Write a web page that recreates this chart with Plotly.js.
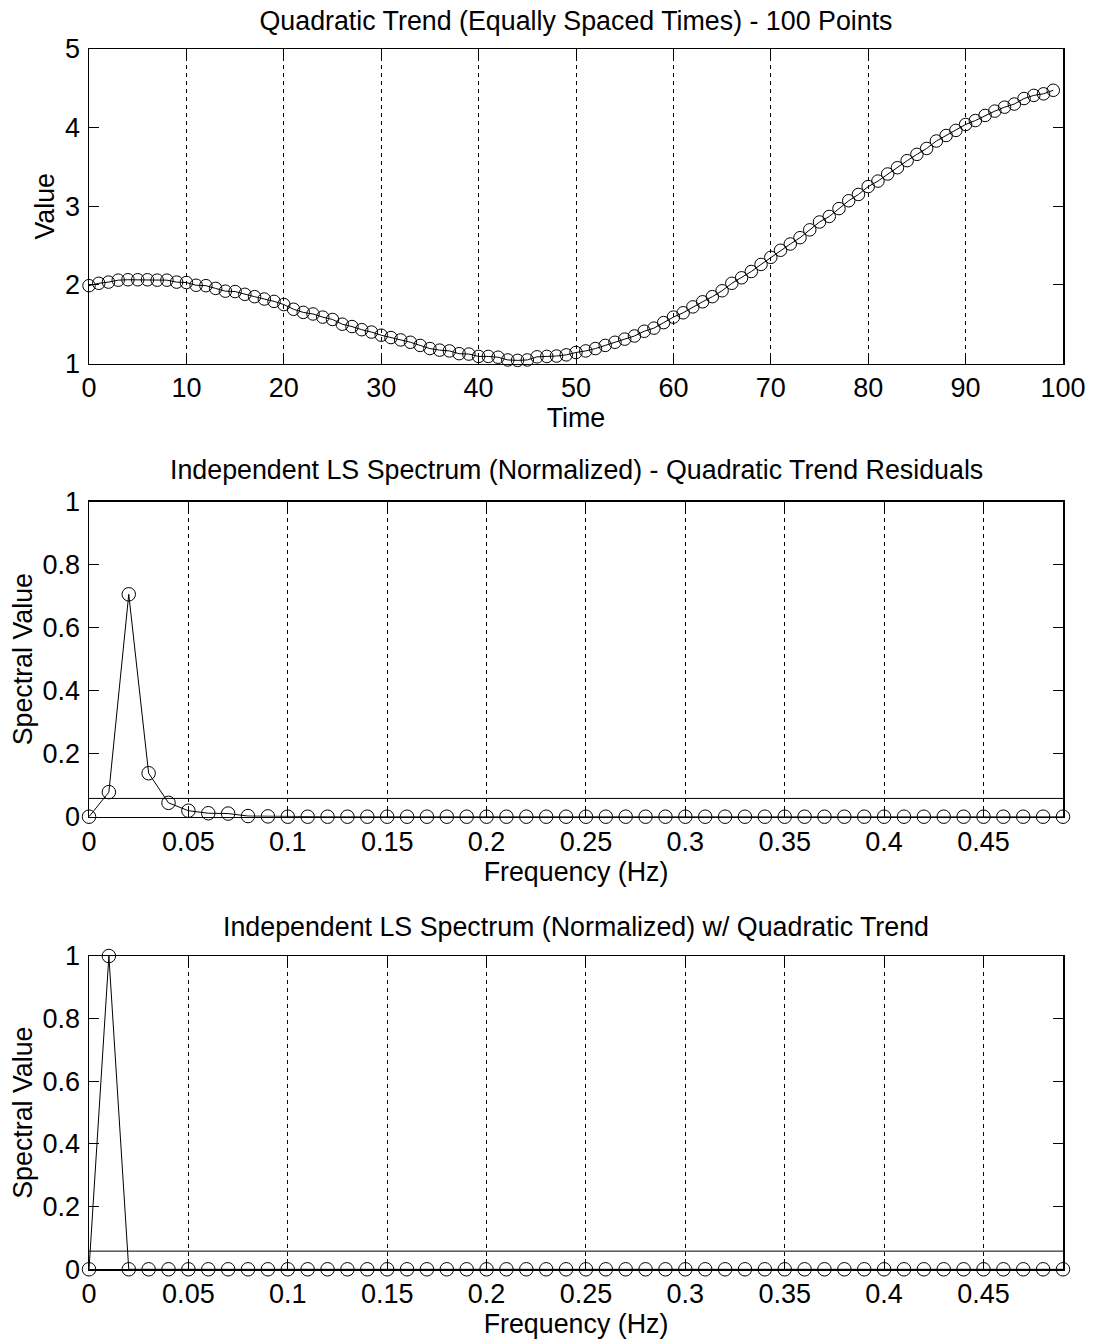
<!DOCTYPE html>
<html>
<head>
<meta charset="utf-8">
<script src="https://cdn.plot.ly/plotly-3.0.1.min.js"></script>
<style>html,body{margin:0;padding:0;background:#fff;}#chart{width:1094px;height:1342px;}</style>
</head>
<body>
<div id="chart"></div>
<script>
// ---- data ----
const times = [0,1,2,3,4,5,6,7,8,9,10,11,12,13,14,15,16,17,18,19,20,21,22,23,24,25,26,27,28,29,30,31,32,33,34,35,36,37,38,39,40,41,42,43,44,45,46,47,48,49,50,51,52,53,54,55,56,57,58,59,60,61,62,63,64,65,66,67,68,69,70,71,72,73,74,75,76,77,78,79,80,81,82,83,84,85,86,87,88,89,90,91,92,93,94,95,96,97,98,99];
const values = [1.99,2.02,2.035,2.06,2.065,2.065,2.065,2.06,2.06,2.035,2.03,1.995,1.99,1.955,1.92,1.915,1.88,1.85,1.82,1.79,
  1.75,1.69,1.65,1.63,1.59,1.56,1.50,1.47,1.43,1.40,1.36,1.33,1.30,1.27,1.23,1.19,1.17,1.16,1.125,1.12,
  1.09,1.09,1.08,1.045,1.04,1.045,1.085,1.09,1.095,1.11,1.14,1.16,1.19,1.23,1.27,1.31,1.35,1.41,1.45,1.52,
  1.59,1.645,1.72,1.785,1.85,1.925,2.02,2.09,2.17,2.26,2.35,2.44,2.52,2.60,2.70,2.80,2.87,2.97,3.07,3.15,
  3.25,3.32,3.41,3.49,3.58,3.66,3.735,3.83,3.90,3.965,4.04,4.09,4.155,4.21,4.26,4.30,4.37,4.41,4.43,4.475];
const freqs = [0,0.01,0.02,0.03,0.04,0.05,0.06,0.07,0.08,0.09,0.10,0.11,0.12,0.13,0.14,0.15,0.16,0.17,0.18,0.19,
  0.20,0.21,0.22,0.23,0.24,0.25,0.26,0.27,0.28,0.29,0.30,0.31,0.32,0.33,0.34,0.35,0.36,0.37,0.38,0.39,
  0.40,0.41,0.42,0.43,0.44,0.45,0.46,0.47,0.48,0.49];
const residualSpectrum = [0,0.078,0.706,0.138,0.044,0.019,0.011,0.010,0.002,0.001,0,0,0,0,0,0,0,0,0,0,
  0,0,0,0,0,0,0,0,0,0,0,0,0,0,0,0,0,0,0,0,0,0,0,0,0,0,0,0,0,0];
const trendSpectrum = [0,1.0,0,0,0,0,0,0,0,0,0,0,0,0,0,0,0,0,0,0,
  0,0,0,0,0,0,0,0,0,0,0,0,0,0,0,0,0,0,0,0,0,0,0,0,0,0,0,0,0,0];
const threshold = 0.058;
const titles = ["Quadratic Trend (Equally Spaced Times) - 100 Points",
  "Independent LS Spectrum (Normalized) - Quadratic Trend Residuals",
  "Independent LS Spectrum (Normalized) w/ Quadratic Trend"];

// ---- layout helpers ----
const W = 1094, H = 1342;
const FONT = {family: '"Liberation Sans", Arial, Helvetica, sans-serif', size: 26.8, color: '#000'};
const TICKFONT = {family: '"Liberation Sans", Arial, Helvetica, sans-serif', size: 27, color: '#000'};
const xd = [89/W, 1063/W];
function yd(top, bottom) { return [1 - bottom/H, 1 - top/H]; }
const boxes = [[49, 363.5], [501.7, 816.7], [956, 1269.3]];

function xaxis(range, dtick, titleText, anchor) {
  return {
    domain: xd, range: range, dtick: dtick, tick0: 0, anchor: anchor,
    showline: true, linecolor: '#000', linewidth: 1.5, mirror: 'ticks',
    ticks: 'inside', ticklen: 10, tickcolor: '#000', tickwidth: 1,
    showgrid: true, gridcolor: '#000', gridwidth: 1, griddash: '4px,4px',
    zeroline: false, tickfont: TICKFONT, ticklabelstandoff: 0,
    title: {text: titleText, font: FONT, standoff: 0}
  };
}
function yaxis(range, dtick, titleText, dom, anchor, standoff) {
  return {
    domain: dom, range: range, dtick: dtick, tick0: 0, anchor: anchor,
    showline: true, linecolor: '#000', linewidth: 1.5, mirror: 'ticks',
    ticks: 'inside', ticklen: 10, tickcolor: '#000', tickwidth: 1,
    showgrid: false, zeroline: false, tickfont: TICKFONT, ticklabelstandoff: 2,
    title: {text: titleText, font: FONT, standoff: standoff}
  };
}

const lineStyle = {color: '#000', width: 1};
const traces = [
  {x: times, y: values, xaxis: 'x', yaxis: 'y', mode: 'lines+markers', line: lineStyle, cliponaxis: false,
   marker: {symbol: 'circle-open', size: 12.5, color: '#000', line: {width: 1, color: '#000'}}},
  {x: freqs, y: residualSpectrum, xaxis: 'x2', yaxis: 'y2', mode: 'lines+markers', line: lineStyle, cliponaxis: false,
   marker: {symbol: 'circle-open', size: 13.5, color: '#000', line: {width: 1, color: '#000'}}},
  {x: [freqs[0], freqs[freqs.length-1]], y: [threshold, threshold], xaxis: 'x2', yaxis: 'y2', mode: 'lines', line: lineStyle},
  {x: freqs, y: trendSpectrum, xaxis: 'x3', yaxis: 'y3', mode: 'lines+markers', line: lineStyle, cliponaxis: false,
   marker: {symbol: 'circle-open', size: 13.5, color: '#000', line: {width: 1, color: '#000'}}},
  {x: [freqs[0], freqs[freqs.length-1]], y: [threshold, threshold], xaxis: 'x3', yaxis: 'y3', mode: 'lines', line: lineStyle}
];

const titleShift = [19, 15, 12];
const annotations = [1, 2].map(i => ({
  text: titles[i], xref: 'paper', yref: 'paper', x: (xd[0] + xd[1]) / 2, y: 1 - boxes[i][0]/H,
  xanchor: 'center', yanchor: 'bottom', yshift: titleShift[i], showarrow: false, font: FONT
}));

const layout = {
  width: W, height: H, margin: {l: 0, r: 0, t: 0, b: 0},
  paper_bgcolor: '#fff', plot_bgcolor: '#fff', showlegend: false, font: FONT,
  title: {text: titles[0], font: FONT, x: (xd[0] + xd[1]) / 2, xanchor: 'center',
          y: 1 - boxes[0][0]/H, yref: 'container', yanchor: 'bottom', pad: {b: titleShift[0]}},
  xaxis: xaxis([0, 100], 10, 'Time', 'y'),
  yaxis: yaxis([1, 5], 1, 'Value', yd(boxes[0][0], boxes[0][1]), 'x', 2),
  xaxis2: xaxis([0, 0.49], 0.05, 'Frequency (Hz)', 'y2'),
  yaxis2: yaxis([0, 1], 0.2, 'Spectral Value', yd(boxes[1][0], boxes[1][1]), 'x2', 2),
  xaxis3: xaxis([0, 0.49], 0.05, 'Frequency (Hz)', 'y3'),
  yaxis3: yaxis([0, 1], 0.2, 'Spectral Value', yd(boxes[2][0], boxes[2][1]), 'x3', 2),
  annotations: annotations
};

Plotly.newPlot('chart', traces, layout, {displayModeBar: false, staticPlot: true});
</script>
</body>
</html>
